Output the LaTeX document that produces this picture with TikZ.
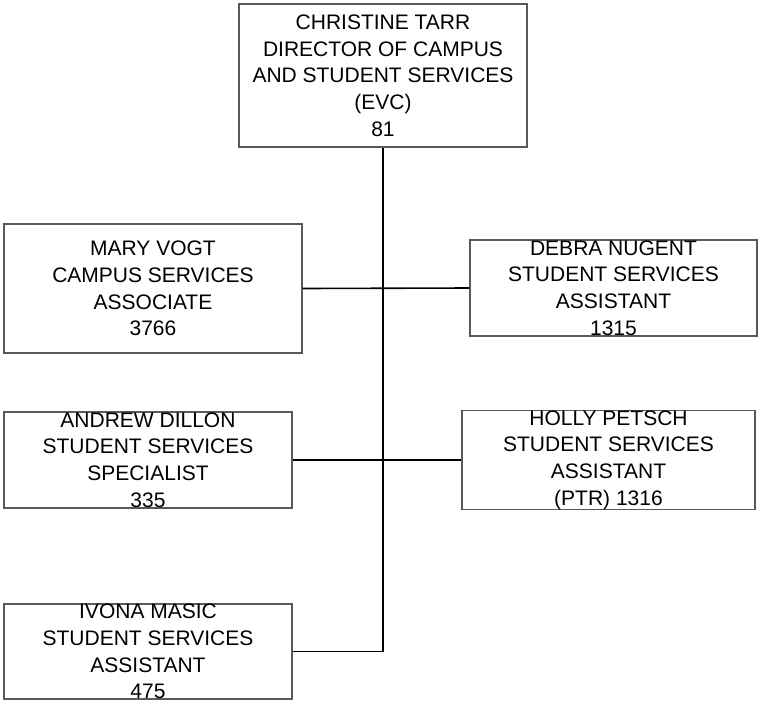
\documentclass[tikz,border=0pt]{standalone}
\usepackage{fontspec}
\setmainfont{Liberation Sans}
\usetikzlibrary{positioning}

\begin{document}
\begin{tikzpicture}[x=1pt,y=-1pt,
    cargo/.style={draw=black!65, line width=1.1pt, inner sep=0pt, align=center,
      font=\fontsize{21}{26.7}\selectfont},
    liga/.style={draw=black, line width=1.6pt}]
    \useasboundingbox (0,0) rectangle (761,702);

    % Direcao
    \node[cargo, minimum width=288pt, minimum height=143pt] (tarr) at (383,75.5)
      {CHRISTINE TARR\\DIRECTOR OF CAMPUS\\AND STUDENT SERVICES\\(EVC)\\81};

    % Equipe
    \node[cargo, minimum width=298pt, minimum height=129pt] (vogt) at (153,288.5)
      {MARY VOGT\\CAMPUS SERVICES\\ASSOCIATE\\3766};
    \node[cargo, minimum width=287pt, minimum height=96pt] (nugent) at (613.5,288)
      {DEBRA NUGENT\\STUDENT SERVICES\\ASSISTANT\\1315};
    \node[cargo, minimum width=288pt, minimum height=96pt] (dillon) at (148,460)
      {ANDREW DILLON\\STUDENT SERVICES\\SPECIALIST\\335};
    \node[cargo, minimum width=293pt, minimum height=96pt] (petsch) at (608.5,460)
      {HOLLY PETSCH\\STUDENT SERVICES\\ASSISTANT\\(PTR) 1316};
    \node[cargo, minimum width=288pt, minimum height=95pt] (masic) at (148,651.5)
      {IVONA MASIC\\STUDENT SERVICES\\ASSISTANT\\475};

    % Ligacoes
    \draw[liga] (tarr.south) -- (tarr.south |- masic.east) -- (masic.east);
    \draw[liga] (vogt.east) -- (nugent.west);
    \draw[liga] (dillon.east) -- (petsch.west);
\end{tikzpicture}
\end{document}
